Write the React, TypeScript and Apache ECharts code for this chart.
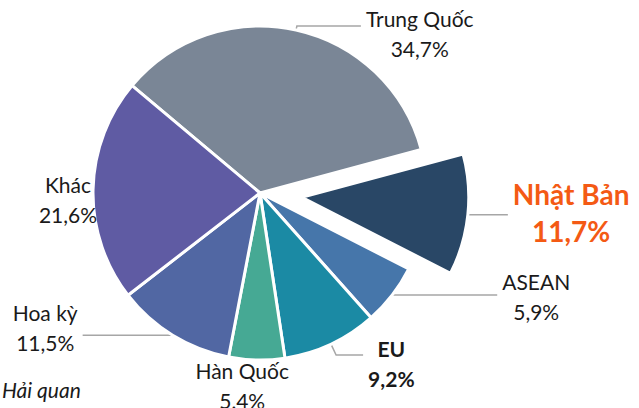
import React, { useEffect, useRef } from "react";
import * as echarts from "echarts";

const categories = ["Trung Quốc", "Nhật Bản", "ASEAN", "EU", "Hàn Quốc", "Hoa kỳ", "Khác"];
const shares = [34.7, 11.7, 5.9, 9.2, 5.4, 11.5, 21.6];
const sourceNote = "Hải quan";

const sliceColors = ["#7a8696", "#294766", "#4676aa", "#1b8aa4", "#46a994", "#5167a3", "#5f5ba3"];
// label-line geometry per slice (first, second segment) and label padding
const lineFirst = [4, 0, 0, 12, 26, 0, 0];
const lineSecond = [64, 40, 105, 27, 9, 90, 0];
const labelPad: number[][] = [
  [14, 0, 0, 0],
  [0, 0, 4, 0],
  [3, 0, 0, 0],
  [16, 0, 0, 0],
  [0, 0, 0, 0],
  [0, 0, 16, 0],
  [19, 0, 0, 0],
];
const labelStyleKey = ["n", "o", "n", "b", "n", "n", "n"];

const FONT = "Lato, 'Noto Sans', sans-serif";

export default function App() {
  const ref = useRef<HTMLDivElement>(null);
  useEffect(() => {
    if (!ref.current) return;
    const chart = echarts.init(ref.current, undefined, { renderer: "svg" });
    const data = categories.map((name, i) => ({
      name,
      value: shares[i],
      selected: i === 1,
      itemStyle: { color: sliceColors[i] },
      label: { padding: labelPad[i] },
      labelLine: {
        show: i !== 4,
        length: lineFirst[i],
        length2: lineSecond[i],
      },
    }));
    chart.setOption({
      animation: false,
      backgroundColor: "#ffffff",
      graphic: [
        {
          type: "text",
          left: 2,
          top: 379,
          style: {
            text: sourceNote,
            font: `italic 21px ${FONT}`,
            fill: "#1a1a1a",
          },
        },
      ],
      series: [
        {
          type: "pie",
          center: [260, 193],
          radius: [0, 167],
          startAngle: 140,
          clockwise: true,
          avoidLabelOverlap: false,
          selectedMode: "single",
          selectedOffset: 42,
          itemStyle: { borderColor: "#ffffff", borderWidth: 3 },
          emphasis: { disabled: true },
          select: { itemStyle: { borderColor: "#ffffff", borderWidth: 3 } },
          label: {
            show: true,
            position: "outside",
            fontFamily: FONT,
            distanceToLabelLine: 5,
            formatter: (p: any) => {
              const k = labelStyleKey[p.dataIndex];
              const v = Number(p.value).toFixed(1).replace(".", ",");
              return `{${k}|${p.name}}\n{${k}|${v}%}`;
            },
            rich: {
              n: { fontFamily: FONT, fontSize: 21, color: "#1a1a1a", lineHeight: 30, align: "center" },
              b: { fontFamily: FONT, fontSize: 21, fontWeight: "bold", color: "#1a1a1a", lineHeight: 30, align: "center" },
              o: { fontFamily: FONT, fontSize: 28, fontWeight: "bold", color: "#f45a14", lineHeight: 37, align: "center" },
            },
          },
          labelLine: {
            show: true,
            smooth: false,
            lineStyle: { color: "#a6a6a6", width: 1.5 },
          },
          labelLayout: (p: any) => {
            if (p.dataIndex === 4) return { align: "center" };
            if (p.dataIndex === 6) return { dx: 9 };
            return {};
          },
          data,
        },
      ],
    });
    return () => chart.dispose();
  }, []);
  return (
    <div
      ref={ref}
      style={{ position: "fixed", left: 0, top: 0, width: 639, height: 408 }}
    />
  );
}
